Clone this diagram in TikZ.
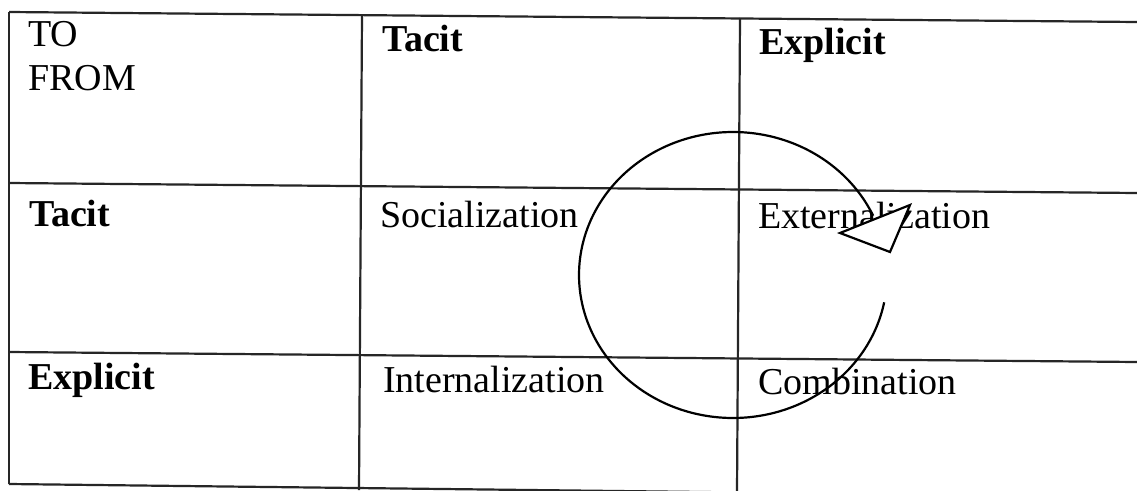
\documentclass[tikz,border=0pt]{standalone}
\usepackage{fontspec}
\setmainfont{Liberation Serif}
\begin{document}
\begin{tikzpicture}[x=1pt,y=-1pt,
  gridline/.style={draw=black!85,line width=2.2pt},
  cyclearc/.style={draw=black,line width=2.2pt},
  celltext/.style={anchor=base west,inner sep=0pt,font=\fontsize{38}{44}\selectfont},
  headtext/.style={celltext,font=\fontsize{38}{44}\selectfont\bfseries}]
\useasboundingbox (0,0) rectangle (1137,490);
\clip (0,0) rectangle (1137,490);
\fill[white] (0,0) rectangle (1137,490);
% grid corners
\coordinate (h0l) at (9,12);   \coordinate (h0r) at (1137,22);
\coordinate (h1l) at (9,183);  \coordinate (h1r) at (1137,193);
\coordinate (h2l) at (9,352);  \coordinate (h2r) at (1137,362);
\coordinate (h3l) at (9,484);  \coordinate (h3r) at (1137,497);
\coordinate (v1t) at (362,15); \coordinate (v1b) at (359,490);
\coordinate (v2t) at (740,18); \coordinate (v2b) at (737,492);
% table lines
\draw[gridline] (h0l) -- (h0r);
\draw[gridline] (h1l) -- (h1r);
\draw[gridline] (h2l) -- (h2r);
\draw[gridline] (h3l) -- (h3r);
\draw[gridline] (h0l) -- (h3l);
\draw[gridline] (v1t) -- (v1b);
\draw[gridline] (v2t) -- (v2b);
% texts
\node[celltext] (to) at (28,46) {TO};
\node[celltext] (from) at (28,90) {FROM};
\node[headtext] (hTacit) at (382,51) {Tacit};
\node[headtext] (hExplicit) at (759,54) {Explicit};
\node[headtext] (rTacit) at (29,226) {Tacit};
\node[celltext] (soc) at (380,227) {Socialization};
\node[celltext] (ext) at (758,228) {Externalization};
\node[headtext] (rExplicit) at (28,389) {Explicit};
\node[celltext] (int) at (383,392) {Internalization};
\node[celltext] (comb) at (758,394) {Combination};
% knowledge cycle
\draw[cyclearc] plot[domain=11:335.5,samples=160,smooth] ({733+154*cos(\x)},{275+143*sin(\x)});
\coordinate (tipA) at (840,233);
\coordinate (tipB) at (910,205);
\coordinate (tipC) at (890,252);
\draw[cyclearc,fill=white,line join=miter] (tipA) -- (tipB) -- (tipC) -- cycle;
\end{tikzpicture}
\end{document}
